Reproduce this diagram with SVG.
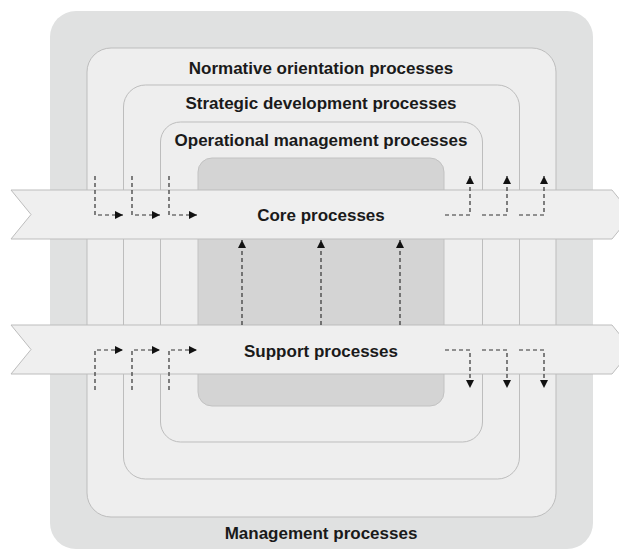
<svg xmlns="http://www.w3.org/2000/svg" width="619" height="549" viewBox="0 0 619 549">
<style>
.lvl{fill:#eeeeee;stroke:#bdbdbd;stroke-width:1}
.band{fill:#efefef;stroke:#bdbdbd;stroke-width:1}
.lbl{font-family:"Liberation Sans",Arial,sans-serif;font-weight:bold;font-size:17px;fill:#1a1a1a;text-anchor:middle}
.dash{fill:none;stroke:#333;stroke-width:1.2;stroke-dasharray:4,3}
</style>
<defs>
<marker id="ah" viewBox="0 0 10 10" refX="10" refY="5" markerWidth="8" markerHeight="8" markerUnits="userSpaceOnUse" orient="auto">
<path d="M0,0 L10,5 L0,10 Z" fill="#111"/>
</marker>
</defs>
<rect width="619" height="549" fill="#ffffff"/>
<g id="management">
<rect x="50" y="11" width="543" height="538" rx="26" fill="#e0e1e1"/>
<text class="lbl" x="321" y="539">Management processes</text>
</g>
<g id="normative">
<rect class="lvl" x="87" y="48" width="469" height="469" rx="24"/>
<text class="lbl" x="321" y="74">Normative orientation processes</text>
</g>
<g id="strategic">
<rect class="lvl" x="123.5" y="85" width="396" height="394" rx="22"/>
<text class="lbl" x="321" y="109">Strategic development processes</text>
</g>
<g id="operational">
<rect class="lvl" x="160.5" y="122" width="322" height="320" rx="20"/>
<text class="lbl" x="321" y="146">Operational management processes</text>
</g>
<g id="inner">
<rect x="198" y="158" width="246" height="248" rx="14" fill="#d4d4d4" stroke="#c2c2c2"/>
</g>
<g id="core">
<path class="band" d="M11,190 L612,190 L632,214.5 L612,239 L11,239 L31,214.5 Z"/>
<text class="lbl" x="321" y="221">Core processes</text>
</g>
<g id="support">
<path class="band" d="M11,325 L612,325 L632,349.5 L612,374 L11,374 L31,349.5 Z"/>
<text class="lbl" x="321" y="357">Support processes</text>
</g>
<g id="connectors">
<path class="dash" d="M95,176 V215 H123" marker-end="url(#ah)"/>
<path class="dash" d="M132,176 V215 H160" marker-end="url(#ah)"/>
<path class="dash" d="M169,176 V215 H197" marker-end="url(#ah)"/>
<path class="dash" d="M445,215 H470 V176" marker-end="url(#ah)"/>
<path class="dash" d="M482,215 H507 V176" marker-end="url(#ah)"/>
<path class="dash" d="M519,215 H544 V176" marker-end="url(#ah)"/>
<path class="dash" d="M95,390 V350 H123" marker-end="url(#ah)"/>
<path class="dash" d="M132,390 V350 H160" marker-end="url(#ah)"/>
<path class="dash" d="M169,390 V350 H197" marker-end="url(#ah)"/>
<path class="dash" d="M445,350 H470 V388" marker-end="url(#ah)"/>
<path class="dash" d="M482,350 H507 V388" marker-end="url(#ah)"/>
<path class="dash" d="M519,350 H544 V388" marker-end="url(#ah)"/>
<path class="dash" d="M242,325 V240" marker-end="url(#ah)"/>
<path class="dash" d="M321,325 V240" marker-end="url(#ah)"/>
<path class="dash" d="M400,325 V240" marker-end="url(#ah)"/>
</g>
</svg>
